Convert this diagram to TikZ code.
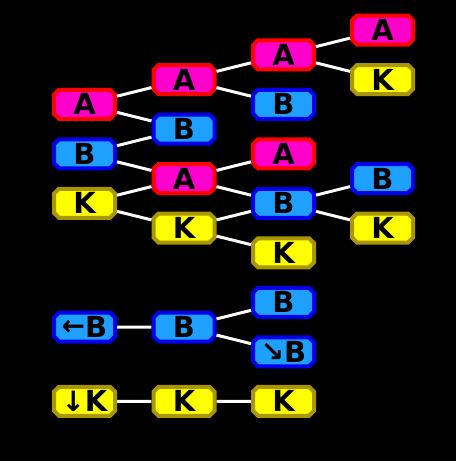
\documentclass[tikz,border=0pt]{standalone}
\usepackage{fontspec}
\setmainfont{DejaVu Sans}
\usetikzlibrary{shapes.misc}

\definecolor{afill}{RGB}{255,0,204}
\definecolor{aborder}{RGB}{255,0,0}
\definecolor{bfill}{RGB}{30,160,255}
\definecolor{bborder}{RGB}{0,0,235}
\definecolor{kfill}{RGB}{255,255,0}
\definecolor{kborder}{RGB}{170,150,0}

\begin{document}
\begin{tikzpicture}[x=1pt, y=-1pt]

% Define styles
\tikzstyle{key} = [chamfered rectangle, chamfered rectangle xsep=2.5pt, chamfered rectangle ysep=2.5pt,
    line width=4pt, minimum width=61pt, minimum height=29pt, inner sep=0pt,
    font=\fontsize{29}{29}\selectfont\bfseries, text=black, text height=21pt, text depth=0pt]
\tikzstyle{akey} = [key, draw=aborder, fill=afill]
\tikzstyle{bkey} = [key, draw=bborder, fill=bfill]
\tikzstyle{kkey} = [key, draw=kborder, fill=kfill]
\tikzstyle{line} = [draw, white, line width=3pt]
\newcommand{\arr}[2]{{\fontsize{28}{28}\selectfont\raisebox{#1}{#2}}}

% Background
\fill [black] (0,0) rectangle (456,461);
\useasboundingbox (0,0) rectangle (456,461);

% Place nodes
\node [akey] (a1) at (84.5,104.25) {A};
\node [bkey] (b1) at (84.5,153.75) {B};
\node [kkey] (k1) at (84.5,203.25) {K};

\node [akey] (a2u) at (184,79.5) {A};
\node [bkey] (b2) at (184,129) {B};
\node [akey] (a2l) at (184,178.5) {A};
\node [kkey] (k2) at (184,228) {K};

\node [akey] (a3u) at (283.5,54.75) {A};
\node [bkey] (b3u) at (283.5,104.25) {B};
\node [akey] (a3l) at (283.5,153.75) {A};
\node [bkey] (b3l) at (283.5,203.25) {B};
\node [kkey] (k3) at (283.5,252.75) {K};

\node [akey] (a4) at (382.5,30) {A};
\node [kkey] (k4u) at (382.5,79.5) {K};
\node [bkey] (b4) at (382.5,178.5) {B};
\node [kkey] (k4l) at (382.5,228) {K};

\node [bkey] (bback) at (84.5,327) {\arr{2pt}{←}B};
\node [bkey] (bdown) at (283.5,351.75) {\arr{1pt}{↘}B};
\node [bkey] (bmid) at (184,327) {B};
\node [bkey] (bup) at (283.5,302.25) {B};

\node [kkey] (kdown) at (84.5,401.25) {\arr{0pt}{↓}K};
\node [kkey] (kmid) at (184,401.25) {K};
\node [kkey] (kend) at (283.5,401.25) {K};

% Draw edges
\path [line] (a1) -- (a2u);
\path [line] (a1) -- (b2);
\path [line] (b1) -- (b2);
\path [line] (b1) -- (a2l);
\path [line] (k1) -- (a2l);
\path [line] (k1) -- (k2);
\path [line] (a2u) -- (a3u);
\path [line] (a2u) -- (b3u);
\path [line] (a2l) -- (a3l);
\path [line] (a2l) -- (b3l);
\path [line] (k2) -- (b3l);
\path [line] (k2) -- (k3);
\path [line] (a3u) -- (a4);
\path [line] (a3u) -- (k4u);
\path [line] (b3l) -- (b4);
\path [line] (b3l) -- (k4l);
\path [line] (bback) -- (bmid);
\path [line] (bmid) -- (bup);
\path [line] (bmid) -- (bdown);
\path [line] (kdown) -- (kmid);
\path [line] (kmid) -- (kend);

\end{tikzpicture}
\end{document}
